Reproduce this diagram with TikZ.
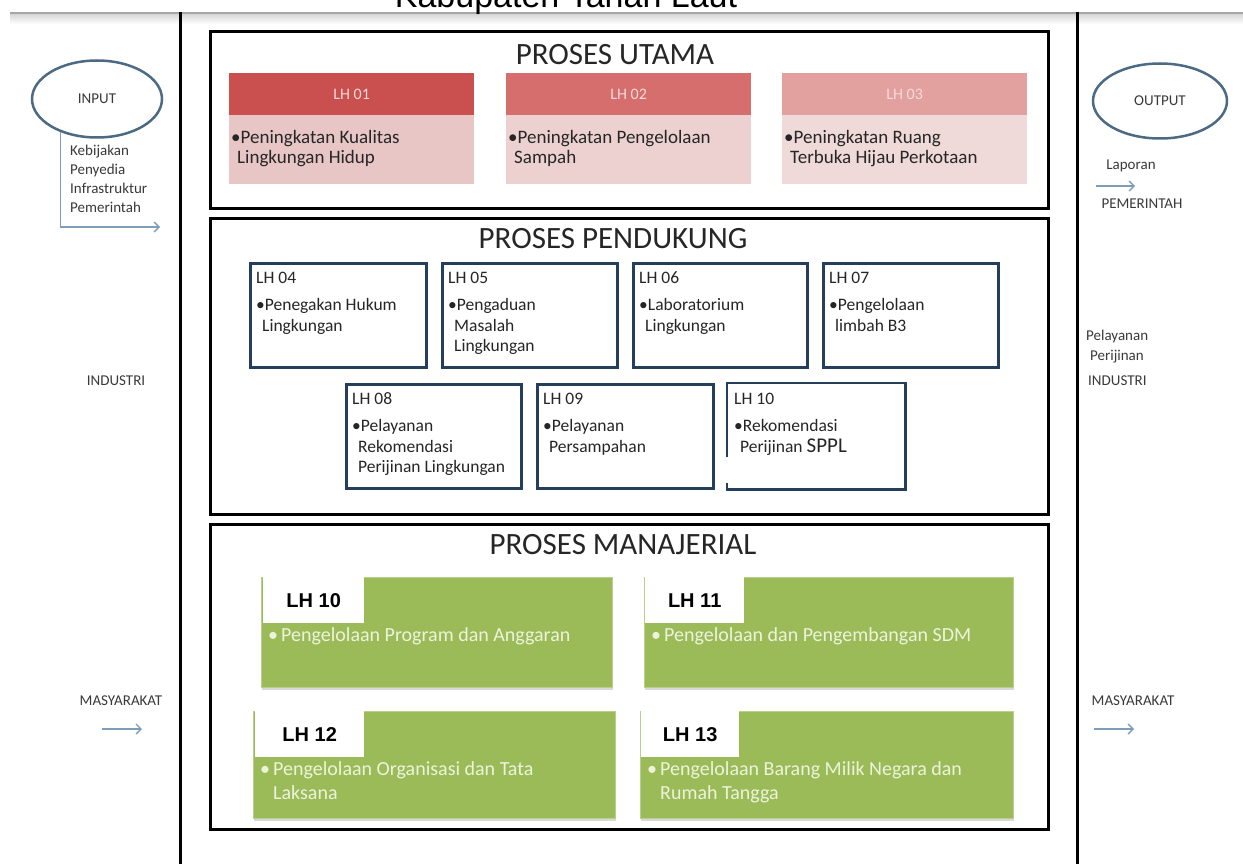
\documentclass[tikz,border=0pt]{standalone}
\usepackage{fontspec}
\setmainfont{Carlito}
\newfontfamily\arialf{Liberation Sans}
\usetikzlibrary{shapes.geometric,arrows.meta,shadows}
\definecolor{navyb}{HTML}{243F5C}
\definecolor{redA}{HTML}{C9504E}
\definecolor{redB}{HTML}{D56E6D}
\definecolor{redC}{HTML}{E2A09F}
\definecolor{pinkA}{HTML}{E8C6C6}
\definecolor{pinkB}{HTML}{EDD1D1}
\definecolor{pinkC}{HTML}{F0D9D9}
\definecolor{headtxt}{HTML}{F6DADA}
\definecolor{grn}{HTML}{9BBB59}
\definecolor{grntxt}{HTML}{EDF3DB}
\definecolor{ellc}{HTML}{4C6A84}
\definecolor{arrc}{HTML}{7F9DB9}
\definecolor{sidetxt}{HTML}{3A3A3A}
\begin{document}
\begin{tikzpicture}[x=1pt,y=-1pt,
  frameline/.style={draw=black,line width=3pt},
  section/.style={draw=black,line width=3pt,minimum width=838pt,anchor=north west,inner sep=0pt},
  sectitle/.style={font=\fontsize{31}{34}\selectfont,text=black!85,anchor=base,inner sep=0pt},
  head/.style={minimum width=245pt,minimum height=42pt,anchor=north west,inner sep=0pt,text=headtxt,font=\fontsize{16}{19}\selectfont},
  body/.style={minimum width=245pt,minimum height=69pt,anchor=north west,inner sep=0pt},
  bodytext/.style={anchor=base west,align=left,font=\fontsize{19}{20}\selectfont,inner sep=0pt,text=black!85},
  supbox/.style={draw=navyb,line width=2.8pt,minimum height=104pt,anchor=north west,inner sep=0pt},
  suptext/.style={anchor=base west,align=left,font=\fontsize{17.5}{20.5}\selectfont,inner sep=0pt,text=black!85},
  grnbox/.style={fill=grn,draw=grn!70!white,line width=0.8pt,anchor=north west,inner sep=0pt,
     drop shadow={shadow xshift=1pt,shadow yshift=-2.5pt,opacity=0.3,fill=gray}},
  grnlabel/.style={fill=white,anchor=north west,inner sep=0pt,minimum height=46pt,font=\arialf\bfseries\fontsize{20}{22}\selectfont},
  grntext/.style={anchor=base west,align=left,font=\fontsize{20}{24}\selectfont,inner sep=0pt,text=grntxt},
  sidetext/.style={font=\fontsize{15}{19}\selectfont,text=sidetxt,inner sep=0pt},
  ell/.style={ellipse,draw=ellc,line width=2.5pt,font=\fontsize{15}{18}\selectfont,text=sidetxt,inner sep=0pt},
  flow/.style={draw=arrc,line width=1.4pt,-{Straight Barb[length=5pt,width=10pt]}}
]
\useasboundingbox (0,0) rectangle (1243,864);
\fill[white] (0,0) rectangle (1243,864);

% top rule and title
\shade[top color=gray!35,bottom color=white] (10,13) rectangle (1243,24);
\draw[gray!70,line width=1.2pt] (10,13) -- (1243,13);
\node[font=\arialf\fontsize{34}{36}\selectfont,anchor=base,inner sep=0pt] (title) at (566,8) {Kabupaten Tanah Laut};

% outer verticals
\draw[frameline] (180,12) -- (180,864);
\draw[frameline] (1077,12) -- (1077,864);

% sections
\node[section,minimum height=177pt] (utama) at (209,30) {};
\node[section,minimum height=296pt] (pendukung) at (209,217) {};
\node[section,minimum height=305pt] (manajerial) at (209,523) {};
\node[sectitle] (tutama) at (615,65) {PROSES UTAMA};
\node[sectitle] (tpendukung) at (613,248) {PROSES PENDUKUNG};
\node[sectitle] (tmanajerial) at (623,554) {PROSES MANAJERIAL};

% PROSES UTAMA  (base anchor = last line)
\node[body,fill=pinkA] (b01) at (229,115) {};
\node[head,fill=redA] (h01) at (229,73) {LH 01};
\node[bodytext] (t01) at (231,164) {•Peningkatan Kualitas\\\hspace*{6pt}Lingkungan Hidup};
\node[body,fill=pinkB] (b02) at (506,115) {};
\node[head,fill=redB] (h02) at (506,73) {LH 02};
\node[bodytext] (t02) at (508,164) {•Peningkatan Pengelolaan\\\hspace*{6pt}Sampah};
\node[body,fill=pinkC] (b03) at (782,115) {};
\node[head,fill=redC] (h03) at (782,73) {LH 03};
\node[bodytext] (t03) at (784,164) {•Peningkatan Ruang\\\hspace*{6pt}Terbuka Hijau Perkotaan};

% PROSES PENDUKUNG row 1
\node[supbox,minimum width=176pt] (lh04) at (249,262) {};
\node[suptext] (t04) at (256,331) {LH 04\\[7pt]•Penegakan Hukum\\\hspace*{6pt}Lingkungan};
\node[supbox,minimum width=175pt] (lh05) at (441,262) {};
\node[suptext] (t05) at (448,351.5) {LH 05\\[7pt]•Pengaduan\\\hspace*{6pt}Masalah\\\hspace*{6pt}Lingkungan};
\node[supbox,minimum width=174pt] (lh06) at (632,262) {};
\node[suptext] (t06) at (639,331) {LH 06\\[7pt]•Laboratorium\\\hspace*{6pt}Lingkungan};
\node[supbox,minimum width=175pt] (lh07) at (822,262) {};
\node[suptext] (t07) at (829,331) {LH 07\\[7pt]•Pengelolaan\\\hspace*{6pt}limbah B3};
% row 2
\node[supbox,minimum width=175pt] (lh08) at (345,383) {};
\node[suptext] (t08) at (352,472.5) {LH 08\\[7pt]•Pelayanan\\\hspace*{6pt}Rekomendasi\\\hspace*{6pt}Perijinan Lingkungan};
\node[supbox,minimum width=176pt] (lh09) at (536,383) {};
\node[suptext] (t09) at (543,452) {LH 09\\[7pt]•Pelayanan\\\hspace*{6pt}Persampahan};
\node[supbox,draw=none,minimum width=176pt] (lh10s) at (727,383) {};
\draw[navyb,line width=2.8pt] ([yshift=-74pt]lh10s.north west) -- (lh10s.north west) -- (lh10s.north east)
   -- (lh10s.south east) -- (lh10s.south west) -- ([yshift=7pt]lh10s.south west);
\node[suptext] (t10s) at (734,452) {LH 10\\[7pt]•Rekomendasi\\\hspace*{6pt}Perijinan {\fontsize{21}{20.5}\selectfont SPPL}};

% PROSES MANAJERIAL
\node[grnbox,minimum width=351pt,minimum height=110pt] (g10) at (261,577) {};
\node[grnlabel,minimum width=101pt] (l10) at (263,577) {LH 10};
\node[grntext] (gt10) at (268,641) {\makebox[13pt][l]{•}Pengelolaan Program dan Anggaran};
\node[grnbox,minimum width=369pt,minimum height=110pt] (g11) at (644,577) {};
\node[grnlabel,minimum width=99pt] (l11) at (645,577) {LH 11};
\node[grntext] (gt11) at (651,641) {\makebox[13pt][l]{•}Pengelolaan dan Pengembangan SDM};
\node[grnbox,minimum width=362pt,minimum height=107pt] (g12) at (253,711) {};
\node[grnlabel,minimum width=109pt] (l12) at (255,711) {LH 12};
\node[grntext] (gt12) at (260,799) {\makebox[13pt][l]{•}Pengelolaan Organisasi dan Tata\\\hspace*{13pt}Laksana};
\node[grnbox,minimum width=373pt,minimum height=107pt] (g13) at (640,711) {};
\node[grnlabel,minimum width=98pt] (l13) at (641,711) {LH 13};
\node[grntext] (gt13) at (647,799) {\makebox[13pt][l]{•}Pengelolaan Barang Milik Negara dan\\\hspace*{13pt}Rumah Tangga};

% left side
\node[ell,minimum width=130pt,minimum height=77pt] (input) at (97,99) {INPUT};
\node[sidetext,anchor=base west,align=left] (kebijakan) at (70,212) {Kebijakan\\Penyedia\\Infrastruktur\\Pemerintah};
\coordinate (inend) at (160,227);
\draw[flow] (input.222) |- (inend);
\node[sidetext,anchor=base] (industriL) at (116,385) {INDUSTRI};
\node[sidetext,anchor=base] (masyL) at (121,705) {MASYARAKAT};
\coordinate (mLa) at (102,729);
\coordinate (mLb) at (142,729);
\draw[flow] (mLa) -- (mLb);

% right side
\node[ell,minimum width=134pt,minimum height=75pt] (output) at (1160,101) {OUTPUT};
\node[sidetext,anchor=base] (laporan) at (1131,170) {Laporan};
\coordinate (oa) at (1096,186);
\coordinate (ob) at (1135,186);
\draw[flow] (oa) -- (ob);
\node[sidetext,anchor=base] (pemerintah) at (1142,208) {PEMERINTAH};
\node[sidetext,anchor=base west] (pelayanan) at (1086,340) {Pelayanan};
\node[sidetext,anchor=base west] (perijinan) at (1090,360) {Perijinan};
\node[sidetext,anchor=base west] (industriR) at (1088,385) {INDUSTRI};
\node[sidetext,anchor=base] (masyR) at (1133,705) {MASYARAKAT};
\coordinate (mRa) at (1094,729);
\coordinate (mRb) at (1134,729);
\draw[flow] (mRa) -- (mRb);
\end{tikzpicture}
\end{document}
